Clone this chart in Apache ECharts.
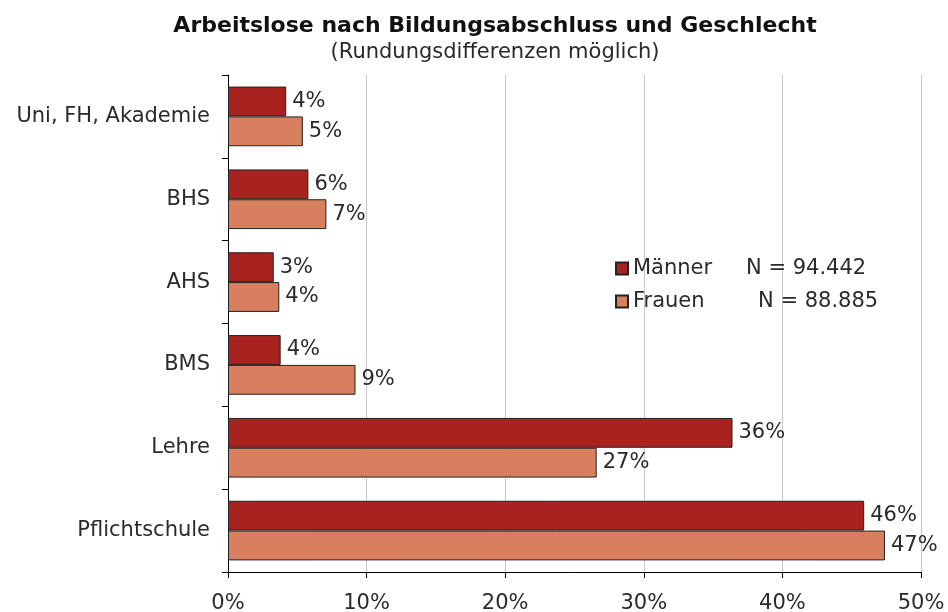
<!DOCTYPE html>
<html>
<head>
<meta charset="utf-8">
<script src="https://cdn.jsdelivr.net/npm/echarts@6/dist/echarts.min.js"></script>
<style>
  html, body { margin: 0; padding: 0; background: #fff; }
  #main { width: 948px; height: 612px; }
</style>
</head>
<body>
<div id="main"></div>
<script>
const categories = ['Uni, FH, Akademie', 'BHS', 'AHS', 'BMS', 'Lehre', 'Pflichtschule']
const maenner = [4.2, 5.8, 3.3, 3.8, 36.4, 45.9]
const frauen = [5.4, 7.1, 3.7, 9.2, 26.6, 47.4]
const seriesNames = ['Männer', 'Frauen']
const legendN = ['N = 94.442', 'N = 88.885']
const xTicks = [0, 10, 20, 30, 40, 50]

const font = '"DejaVu Sans", Verdana, sans-serif'
const fs = 21
const txt = '#2a2a2a'

var myChart = echarts.init(document.getElementById('main'))

const labelOpt = {
    show: true,
    position: 'right',
    distance: 6,
    color: txt,
    fontSize: fs,
    fontFamily: font,
    formatter: (p) => Math.round(p.value) + '%'
}

myChart.setOption({
    animation: false,
    title: {
        text: 'Arbeitslose nach Bildungsabschluss und Geschlecht',
        subtext: '(Rundungsdifferenzen möglich)',
        left: 490,
        textAlign: 'center',
        top: 10,
        itemGap: 5,
        textStyle: { fontSize: 22, fontWeight: 'bold', color: '#111', fontFamily: font },
        subtextStyle: { fontSize: 21, color: txt, fontFamily: font }
    },
    legend: {
        data: seriesNames,
        orient: 'vertical',
        left: 610,
        top: 253,
        icon: 'rect',
        itemWidth: 12,
        itemHeight: 12,
        itemGap: 12,
        textStyle: {
            fontSize: fs, color: txt, fontFamily: font,
            rich: {
                m: { width: 113, fontSize: fs, color: txt, fontFamily: font },
                f: { width: 125, fontSize: fs, color: txt, fontFamily: font },
                n: { fontSize: fs, color: txt, fontFamily: font }
            }
        },
        formatter: (name) => {
            const i = seriesNames.indexOf(name)
            return '{' + (i === 0 ? 'm' : 'f') + '|' + name + '}{n|' + legendN[i] + '}'
        }
    },
    grid: { left: 228, right: 27, top: 75, bottom: 40, containLabel: false, outerBoundsMode: 'none' },
    xAxis: {
        type: 'value',
        min: 0,
        max: 50,
        interval: 10,
        axisLine: { show: true, lineStyle: { color: '#000', width: 1 } },
        axisTick: { show: true, length: 6, lineStyle: { color: '#000' } },
        axisLabel: {
            fontSize: fs, color: txt, fontFamily: font, margin: 21,
            formatter: (v) => xTicks.includes(v) ? v + '%' : ''
        },
        splitLine: { show: true, lineStyle: { color: '#c8c8c8', width: 1 } }
    },
    yAxis: {
        type: 'category',
        data: categories,
        inverse: true,
        axisLine: { show: true, lineStyle: { color: '#000', width: 1 } },
        axisTick: { show: true, length: 6, lineStyle: { color: '#000' } },
        axisLabel: { fontSize: fs, color: txt, fontFamily: font, margin: 18 }
    },
    series: [{
        name: seriesNames[0],
        type: 'bar',
        data: maenner,
        barGap: '0%',
        barCategoryGap: '28%',
        itemStyle: { color: '#a8231f', borderColor: '#222', borderWidth: 1 },
        label: labelOpt
    }, {
        name: seriesNames[1],
        type: 'bar',
        data: frauen,
        itemStyle: { color: '#d87f60', borderColor: '#222', borderWidth: 1 },
        label: labelOpt
    }]
})
</script>
</body>
</html>
